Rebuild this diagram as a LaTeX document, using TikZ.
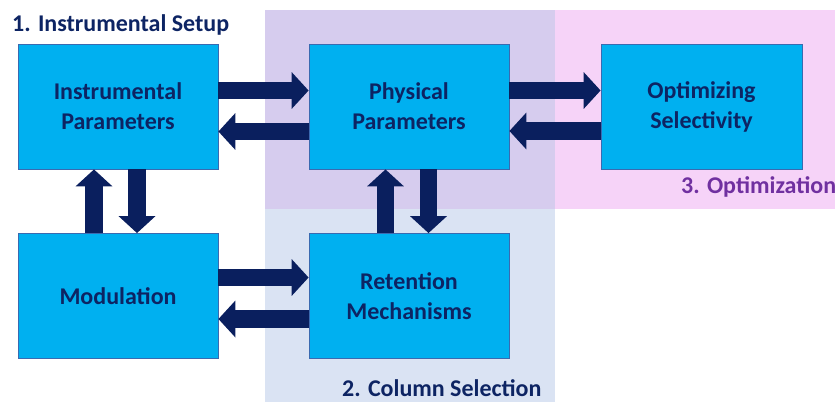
\documentclass[tikz,border=0pt]{standalone}
\usepackage{fontspec}
\setmainfont{Carlito}
\usetikzlibrary{arrows.meta,calc}

\definecolor{navy}{HTML}{0A1F5E}
\definecolor{textnavy}{HTML}{0D2463}
\definecolor{optpurple}{HTML}{7030A0}
\definecolor{boxfill}{HTML}{00B0F0}
\definecolor{boxedge}{HTML}{3A6AB0}
\definecolor{lavenderbg}{HTML}{D6CCEE}
\definecolor{pinkbg}{HTML}{F6D3F8}
\definecolor{lightbluebg}{HTML}{DAE3F3}

\begin{document}
\begin{tikzpicture}[x=1pt,y=-1pt,
  proc/.style={draw=boxedge, fill=boxfill, line width=0.8pt,
    minimum width=200pt, minimum height=125pt, inner sep=0pt,
    align=center, text=textnavy,
    font=\bfseries\fontsize{24}{30}\selectfont},
  heading/.style={anchor=base west, inner sep=0pt,
    font=\bfseries\fontsize{24}{30}\selectfont},
  flow/.style={draw=navy, line width=17.5pt,
    -{Triangle[length=17pt,width=36pt]}}]

\useasboundingbox (0,0) rectangle (835,402);

% stage backgrounds
\fill[lavenderbg] (265,10) rectangle (555,209);
\fill[pinkbg] (555,10) rectangle (835,209);
\fill[lightbluebg] (265,209) rectangle (555,402);

% stage headings
\node[heading, text=textnavy] (h1) at (12,31) {1. Instrumental Setup};
\node[heading, text=textnavy] (h2) at (342,396) {2. Column Selection};
\node[heading, text=optpurple] (h3) at (681,193) {3. Optimization};

% process boxes
\node[proc] (ip) at (118,106.5) {Instrumental\\Parameters};
\node[proc] (pp) at (409,106.5) {Physical\\Parameters};
\node[proc, minimum width=201pt] (os) at (701.5,106.5) {Optimizing\\Selectivity};
\node[proc] (mo) at (118,296) {Modulation};
\node[proc] (rm) at (409,296) {Retention\\Mechanisms};

% top row
\draw[flow] ($(ip.east)+(0,-16)$) -- ($(pp.west)+(0,-16)$);
\draw[flow] ($(pp.west)+(0,25)$) -- ($(ip.east)+(0,25)$);
\draw[flow] ($(pp.east)+(0,-16)$) -- ($(os.west)+(0,-16)$);
\draw[flow] ($(os.west)+(0,24.5)$) -- ($(pp.east)+(0,24.5)$);

% bottom row
\draw[flow] ($(mo.east)+(0,-18.5)$) -- ($(rm.west)+(0,-18.5)$);
\draw[flow] ($(rm.west)+(0,23)$) -- ($(mo.east)+(0,23)$);

% verticals
\draw[flow] ($(mo.north)+(-24,0)$) -- ($(ip.south)+(-24,0)$);
\draw[flow] ($(ip.south)+(19,0)$) -- ($(mo.north)+(19,0)$);
\draw[flow] ($(rm.north)+(-23.5,0)$) -- ($(pp.south)+(-23.5,0)$);
\draw[flow] ($(pp.south)+(19.5,0)$) -- ($(rm.north)+(19.5,0)$);
\end{tikzpicture}
\end{document}
